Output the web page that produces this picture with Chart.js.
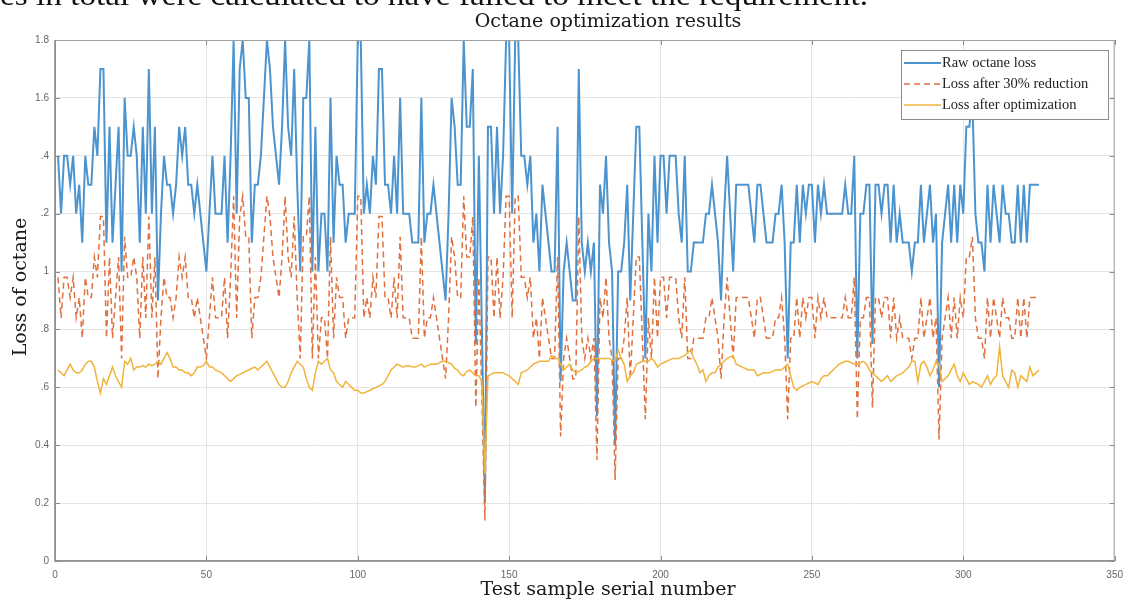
<!DOCTYPE html>
<html>
<head>
<meta charset="utf-8">
<script src="https://cdn.jsdelivr.net/npm/chart.js@4.4.1/dist/chart.umd.min.js"></script>
<style>
  html, body { margin:0; padding:0; background:#ffffff; }
  #wrap { position:relative; width:1131px; height:612px; overflow:hidden; }
</style>
</head>
<body>
<div id="wrap"><canvas id="c" width="1131" height="612"></canvas></div>
<script>
// ---------- data ----------
const chartTitle = 'Octane optimization results';
const xAxisTitle = 'Test sample serial number';
const yAxisTitle = 'Loss of octane';
const croppedLine = 'es in total were calculated to have failed to meet the requirement.';
const seriesNames = ['Raw octane loss', 'Loss after 30% reduction', 'Loss after optimization'];
const xTickLabels = ['0', '50', '100', '150', '200', '250', '300', '350'];
const yTickLabels = ['0', '0.2', '0.4', '.6', '.8', '1', '.2', '.4', '1.6', '1.8'];

const rawLoss = [
1.4,1.2,1.4,1.4,1.3,1.4,1.2,1.3,1.1,1.4,
1.3,1.3,1.5,1.4,1.7,1.7,1.1,1.5,1.1,1.3,
1.5,1.0,1.6,1.4,1.4,1.5,1.4,1.1,1.5,1.2,
1.7,1.2,1.5,0.9,1.2,1.4,1.3,1.3,1.2,1.3,
1.5,1.4,1.5,1.3,1.3,1.2,1.3,1.2,1.1,1.0,
1.2,1.4,1.2,1.2,1.2,1.4,1.1,1.4,1.8,1.2,
1.7,1.8,1.6,1.6,1.1,1.3,1.3,1.4,1.6,1.8,
1.7,1.5,1.4,1.3,1.5,1.8,1.5,1.4,1.7,1.3,
1.0,1.6,1.6,1.8,1.0,1.5,1.0,1.2,1.2,1.0,
1.6,1.1,1.4,1.3,1.3,1.1,1.2,1.2,1.2,1.8,
1.8,1.2,1.3,1.2,1.4,1.3,1.7,1.7,1.3,1.3,
1.2,1.4,1.2,1.6,1.2,1.2,1.2,1.1,1.1,1.1,
1.6,1.1,1.2,1.2,1.3,1.2,1.1,1.0,0.9,1.2,
1.6,1.5,1.3,1.3,1.8,1.5,1.5,1.7,0.75,1.4,
0.8,0.2,1.5,1.5,1.2,1.5,1.2,1.4,1.8,1.8,
1.2,1.8,1.8,1.4,1.4,1.3,1.4,1.1,1.2,1.0,
1.3,1.2,1.1,1.0,1.0,1.5,0.62,1.0,1.1,1.0,
0.9,0.9,1.7,1.1,1.0,1.1,1.0,1.1,0.5,1.3,
1.2,1.4,1.1,1.0,0.4,1.0,1.0,1.1,1.3,0.9,
1.2,1.5,1.5,1.1,0.7,1.2,1.0,1.4,1.1,1.4,
1.4,1.2,1.4,1.4,1.4,1.2,1.1,1.4,1.0,1.0,
1.1,1.1,1.1,1.1,1.2,1.2,1.3,1.2,1.1,0.9,
1.2,1.4,1.2,1.0,1.3,1.3,1.3,1.3,1.3,1.2,
1.1,1.3,1.3,1.2,1.1,1.1,1.1,1.2,1.2,1.3,
1.1,0.7,1.1,1.1,1.3,1.1,1.3,1.2,1.3,1.3,
1.1,1.3,1.2,1.3,1.2,1.2,1.2,1.2,1.2,1.2,
1.3,1.2,1.2,1.4,0.7,1.2,1.2,1.3,1.3,0.75,
1.3,1.3,1.2,1.3,1.3,1.1,1.3,1.1,1.2,1.1,
1.1,1.1,1.0,1.1,1.1,1.3,1.1,1.2,1.3,1.1,
1.2,0.6,1.1,1.2,1.3,1.1,1.3,1.1,1.3,1.2,
1.5,1.5,1.6,1.2,1.1,1.1,1.0,1.3,1.1,1.3,
1.2,1.1,1.3,1.2,1.2,1.1,1.1,1.3,1.1,1.3,
1.1,1.3,1.3,1.3,1.3
];

const reducedLoss = [
0.98,0.84,0.98,0.98,0.91,0.98,0.84,0.91,0.77,0.98,
0.91,0.91,1.05,0.98,1.19,1.19,0.77,1.05,0.77,0.91,
1.05,0.70,1.12,0.98,0.98,1.05,0.98,0.77,1.05,0.84,
1.19,0.84,1.05,0.63,0.84,0.98,0.91,0.91,0.84,0.91,
1.05,0.98,1.05,0.91,0.91,0.84,0.91,0.84,0.77,0.70,
0.84,0.98,0.84,0.84,0.84,0.98,0.77,0.98,1.26,0.84,
1.19,1.26,1.12,1.12,0.77,0.91,0.91,0.98,1.12,1.26,
1.19,1.05,0.98,0.91,1.05,1.26,1.05,0.98,1.19,0.91,
0.70,1.12,1.12,1.26,0.70,1.05,0.70,0.84,0.84,0.70,
1.12,0.77,0.98,0.91,0.91,0.77,0.84,0.84,0.84,1.26,
1.26,0.84,0.91,0.84,0.98,0.91,1.19,1.19,0.91,0.91,
0.84,0.98,0.84,1.12,0.84,0.84,0.84,0.77,0.77,0.77,
1.12,0.77,0.84,0.84,0.91,0.84,0.77,0.70,0.63,0.84,
1.12,1.05,0.91,0.91,1.26,1.05,1.05,1.19,0.53,0.98,
0.56,0.14,1.05,1.05,0.84,1.05,0.84,0.98,1.26,1.26,
0.84,1.26,1.26,0.98,0.98,0.91,0.98,0.77,0.84,0.70,
0.91,0.84,0.77,0.70,0.70,1.05,0.43,0.70,0.77,0.70,
0.63,0.63,1.19,0.77,0.70,0.77,0.70,0.77,0.35,0.91,
0.84,0.98,0.77,0.70,0.28,0.70,0.70,0.77,0.91,0.63,
0.84,1.05,1.05,0.77,0.49,0.84,0.70,0.98,0.77,0.98,
0.98,0.84,0.98,0.98,0.98,0.84,0.77,0.98,0.70,0.70,
0.77,0.77,0.77,0.77,0.84,0.84,0.91,0.84,0.77,0.63,
0.84,0.98,0.84,0.70,0.91,0.91,0.91,0.91,0.91,0.84,
0.77,0.91,0.91,0.84,0.77,0.77,0.77,0.84,0.84,0.91,
0.77,0.49,0.77,0.77,0.91,0.77,0.91,0.84,0.91,0.91,
0.77,0.91,0.84,0.91,0.84,0.84,0.84,0.84,0.84,0.84,
0.91,0.84,0.84,0.98,0.49,0.84,0.84,0.91,0.91,0.53,
0.91,0.91,0.84,0.91,0.91,0.77,0.91,0.77,0.84,0.77,
0.77,0.77,0.70,0.77,0.77,0.91,0.77,0.84,0.91,0.77,
0.84,0.42,0.77,0.84,0.91,0.77,0.91,0.77,0.91,0.84,
1.05,1.05,1.12,0.84,0.77,0.77,0.70,0.91,0.77,0.91,
0.84,0.77,0.91,0.84,0.84,0.77,0.77,0.91,0.77,0.91,
0.77,0.91,0.91,0.91,0.91
];

const optimizedLoss = [
0.66,0.65,0.64,0.66,0.68,0.66,0.65,0.65,0.66,0.68,
0.69,0.69,0.67,0.62,0.58,0.63,0.61,0.64,0.67,0.64,
0.62,0.60,0.69,0.68,0.70,0.66,0.67,0.67,0.675,0.67,
0.68,0.675,0.68,0.69,0.68,0.70,0.72,0.70,0.67,0.67,
0.66,0.66,0.65,0.65,0.64,0.65,0.67,0.67,0.675,0.69,
0.67,0.67,0.66,0.655,0.65,0.64,0.63,0.62,0.63,0.64,
0.645,0.65,0.655,0.66,0.665,0.67,0.66,0.67,0.68,0.69,
0.67,0.65,0.63,0.61,0.60,0.60,0.62,0.65,0.67,0.69,
0.68,0.67,0.63,0.60,0.59,0.65,0.69,0.68,0.69,0.70,
0.66,0.65,0.62,0.61,0.60,0.62,0.61,0.60,0.59,0.59,
0.58,0.58,0.585,0.59,0.595,0.60,0.605,0.61,0.62,0.64,
0.66,0.67,0.68,0.675,0.67,0.675,0.675,0.67,0.67,0.675,
0.68,0.67,0.675,0.68,0.68,0.68,0.685,0.69,0.69,0.685,
0.68,0.665,0.66,0.645,0.64,0.655,0.66,0.65,0.64,0.64,
0.62,0.30,0.64,0.645,0.65,0.65,0.65,0.65,0.645,0.64,
0.63,0.62,0.61,0.65,0.655,0.66,0.67,0.68,0.685,0.69,
0.69,0.69,0.69,0.71,0.70,0.70,0.68,0.66,0.67,0.68,
0.66,0.65,0.655,0.66,0.67,0.675,0.69,0.70,0.70,0.70,
0.70,0.70,0.70,0.695,0.69,0.73,0.70,0.68,0.62,0.64,
0.65,0.68,0.685,0.69,0.69,0.69,0.70,0.69,0.67,0.68,
0.685,0.69,0.695,0.70,0.70,0.70,0.705,0.71,0.72,0.73,
0.70,0.68,0.65,0.66,0.62,0.64,0.65,0.65,0.67,0.68,
0.69,0.70,0.705,0.71,0.68,0.675,0.67,0.665,0.66,0.66,
0.66,0.64,0.645,0.65,0.65,0.65,0.655,0.66,0.66,0.66,
0.67,0.68,0.64,0.60,0.59,0.60,0.605,0.61,0.615,0.62,
0.615,0.61,0.63,0.64,0.64,0.65,0.66,0.67,0.68,0.685,
0.69,0.69,0.685,0.68,0.68,0.685,0.69,0.68,0.66,0.65,
0.64,0.63,0.62,0.63,0.64,0.62,0.63,0.64,0.645,0.65,
0.66,0.67,0.69,0.69,0.62,0.68,0.69,0.67,0.64,0.66,
0.69,0.68,0.62,0.63,0.64,0.66,0.68,0.64,0.62,0.65,
0.63,0.61,0.62,0.615,0.61,0.60,0.62,0.64,0.61,0.63,
0.64,0.74,0.64,0.62,0.60,0.66,0.65,0.60,0.64,0.63,
0.62,0.67,0.64,0.65,0.66
];

// ---------- styling ----------
const colors = ['#4b94cf', '#e0703e', '#efb43c'];
const serif = '"DejaVu Serif", "Liberation Serif", serif';

const toPoints = arr => arr.map((v, i) => ({ x: i + 1, y: v }));

const decorPlugin = {
  id: 'decor',
  beforeDatasetsDraw(chart) {
    const { ctx, chartArea: a, scales: { x, y } } = chart;
    ctx.save();
    // inner tick marks
    ctx.strokeStyle = '#8a8a8a';
    ctx.lineWidth = 1;
    ctx.beginPath();
    x.ticks.forEach(t => {
      const px = Math.round(x.getPixelForValue(t.value)) + 0.5;
      ctx.moveTo(px, a.bottom); ctx.lineTo(px, a.bottom - 5);
      ctx.moveTo(px, a.top); ctx.lineTo(px, a.top + 5);
    });
    y.ticks.forEach(t => {
      const py = Math.round(y.getPixelForValue(t.value)) + 0.5;
      ctx.moveTo(a.left, py); ctx.lineTo(a.left + 5, py);
      ctx.moveTo(a.right, py); ctx.lineTo(a.right - 5, py);
    });
    ctx.stroke();
    ctx.restore();
  },
  afterDraw(chart) {
    const { ctx, chartArea: a } = chart;
    ctx.save();
    // frame
    ctx.strokeStyle = '#a0a0a0';
    ctx.lineWidth = 1;
    ctx.strokeRect(a.left + 0.5, a.top + 0.5, a.right - a.left - 1, a.bottom - a.top - 1);
    ctx.strokeStyle = '#8c8c8c';
    ctx.lineWidth = 1.6;
    ctx.beginPath();
    ctx.moveTo(a.left, a.top); ctx.lineTo(a.left, a.bottom); ctx.lineTo(a.right, a.bottom);
    ctx.stroke();

    // texts
    ctx.fillStyle = '#1a1a1a';
    ctx.font = '19px ' + serif;
    ctx.textAlign = 'center';
    ctx.textBaseline = 'alphabetic';
    ctx.fillText(chartTitle, 608, 27);
    ctx.fillText(xAxisTitle, 608, 595);
    ctx.save();
    ctx.translate(26, 287);
    ctx.rotate(-Math.PI / 2);
    ctx.fillText(yAxisTitle, 0, 0);
    ctx.restore();

    // cropped line of body text at the very top (only its lower part is visible)
    ctx.save();
    ctx.font = '29px "Liberation Serif", serif';
    ctx.textAlign = 'left';
    ctx.fillStyle = '#111';
    const w = ctx.measureText(croppedLine).width;
    ctx.scale(868 / w, 1);
    ctx.fillText(croppedLine, 0, 5);
    ctx.restore();

    // legend
    const lx = 901, ly = 50, lw = 207, lh = 69;
    ctx.fillStyle = '#ffffff';
    ctx.fillRect(lx, ly, lw, lh);
    ctx.strokeStyle = '#8c8c8c';
    ctx.lineWidth = 1;
    ctx.strokeRect(lx + 0.5, ly + 0.5, lw, lh);
    const rows = [63, 84, 105];
    const dashes = [[], [6, 4], []];
    const widths = [2, 1.5, 1.5];
    chart.data.datasets.forEach((ds, i) => {
      ctx.strokeStyle = ds.borderColor;
      ctx.lineWidth = widths[i];
      ctx.setLineDash(dashes[i]);
      ctx.beginPath();
      ctx.moveTo(904, rows[i]); ctx.lineTo(941, rows[i]);
      ctx.stroke();
      ctx.setLineDash([]);
      ctx.fillStyle = '#222';
      ctx.font = '14.5px "Liberation Serif", serif';
      ctx.textAlign = 'left';
      ctx.textBaseline = 'middle';
      ctx.fillText(ds.label, 942, rows[i]);
    });
    ctx.restore();
  }
};

new Chart(document.getElementById('c').getContext('2d'), {
  type: 'line',
  data: {
    datasets: [
      { label: seriesNames[0], data: toPoints(rawLoss), borderColor: colors[0], borderWidth: 2,
        pointRadius: 0, tension: 0, fill: false, order: 3 },
      { label: seriesNames[1], data: toPoints(reducedLoss), borderColor: colors[1], borderWidth: 1.5,
        borderDash: [6, 4], pointRadius: 0, tension: 0, fill: false, order: 2 },
      { label: seriesNames[2], data: toPoints(optimizedLoss), borderColor: colors[2], borderWidth: 1.5,
        pointRadius: 0, tension: 0, fill: false, order: 1 }
    ]
  },
  options: {
    responsive: false,
    animation: false,
    layout: { padding: { top: 40, right: 14, left: 0, bottom: 0 } },
    plugins: { legend: { display: false }, title: { display: false }, tooltip: { enabled: false } },
    scales: {
      x: {
        type: 'linear', min: 0, max: 350,
        afterFit(s) { s.height = 51; },
        grid: { color: '#e4e4e4', drawTicks: false },
        border: { display: false },
        ticks: {
          stepSize: 50, maxRotation: 0, padding: 8, color: '#666',
          font: { family: '"Liberation Sans", Arial, sans-serif', size: 10 },
          callback: (v, i) => xTickLabels[i]
        }
      },
      y: {
        min: 0, max: 1.8,
        afterFit(s) { s.width = 55; },
        grid: { color: '#e4e4e4', drawTicks: false },
        border: { display: false },
        ticks: {
          stepSize: 0.2, padding: 6, color: '#666',
          font: { family: '"Liberation Sans", Arial, sans-serif', size: 10 },
          callback: (v, i) => yTickLabels[i]
        }
      }
    }
  },
  plugins: [decorPlugin]
});
</script>
</body>
</html>
